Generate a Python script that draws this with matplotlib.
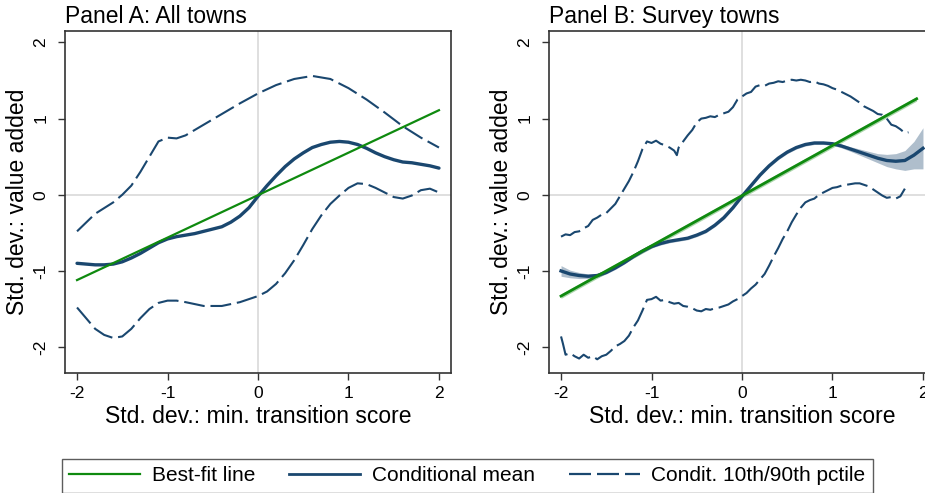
import matplotlib
matplotlib.use("Agg")
import matplotlib.pyplot as plt
import numpy as np
from matplotlib.lines import Line2D

plt.rcParams['font.family'] = ['Liberation Sans', 'DejaVu Sans']

NAVY = '#1a476f'
GREEN = '#0f8a0f'

# ---------------- Panel A: All towns ----------------
a_fit_x = [-2.0, 2.0]
a_fit_y = [-1.12, 1.11]

a_mean_x = [-2.0, -1.9, -1.8, -1.7, -1.6, -1.5, -1.4, -1.3, -1.2, -1.1, -1.0,
            -0.9, -0.8, -0.7, -0.6, -0.5, -0.4, -0.3, -0.2, -0.1, 0.0,
            0.1, 0.2, 0.3, 0.4, 0.5, 0.6, 0.7, 0.8, 0.9, 1.0,
            1.1, 1.2, 1.3, 1.4, 1.5, 1.6, 1.7, 1.8, 1.9, 2.0]
a_mean_y = [-0.90, -0.91, -0.92, -0.92, -0.91, -0.88, -0.83, -0.77, -0.70, -0.63, -0.58,
            -0.55, -0.53, -0.51, -0.48, -0.45, -0.42, -0.36, -0.28, -0.17, -0.02,
            0.12, 0.25, 0.37, 0.47, 0.55, 0.62, 0.66, 0.69, 0.70, 0.69,
            0.66, 0.61, 0.55, 0.50, 0.46, 0.43, 0.42, 0.40, 0.38, 0.35]

a_p90_x = [-2.0, -1.8, -1.6, -1.5, -1.4, -1.3, -1.2, -1.1, -1.0, -0.9, -0.8, -0.6,
           -0.4, -0.2, 0.0, 0.2, 0.4, 0.6, 0.8, 1.0, 1.2, 1.4, 1.6, 1.8, 2.0]
a_p90_y = [-0.48, -0.25, -0.10, 0.00, 0.12, 0.30, 0.50, 0.70, 0.75, 0.74, 0.78, 0.92,
           1.06, 1.20, 1.33, 1.44, 1.52, 1.56, 1.52, 1.40, 1.25, 1.08, 0.90, 0.75, 0.62]

a_p10_x = [-2.0, -1.9, -1.8, -1.7, -1.6, -1.5, -1.4, -1.3, -1.2, -1.1, -1.0, -0.9,
           -0.8, -0.6, -0.4, -0.2, 0.0, 0.1, 0.2, 0.3, 0.4, 0.5, 0.6, 0.7, 0.8, 0.9,
           1.0, 1.1, 1.2, 1.3, 1.4, 1.5, 1.6, 1.7, 1.8, 1.9, 2.0]
a_p10_y = [-1.48, -1.62, -1.76, -1.84, -1.88, -1.86, -1.76, -1.62, -1.50, -1.42, -1.39, -1.39,
           -1.41, -1.46, -1.46, -1.41, -1.33, -1.27, -1.17, -1.03, -0.86, -0.66, -0.45, -0.27,
           -0.12, -0.01, 0.09, 0.15, 0.14, 0.09, 0.03, -0.03, -0.05, -0.01, 0.06, 0.08, 0.03]

# ---------------- Panel B: Survey towns ----------------
b_fit_x = [-2.0, 1.93]
b_fit_y = [-1.33, 1.26]
b_fit_hw = [0.03, 0.03]

b_mean_x = [-2.0, -1.9, -1.8, -1.7, -1.6, -1.5, -1.4, -1.3, -1.2, -1.1, -1.0,
            -0.9, -0.8, -0.7, -0.6, -0.5, -0.4, -0.3, -0.2, -0.1, 0.0,
            0.1, 0.2, 0.3, 0.4, 0.5, 0.6, 0.7, 0.8, 0.9, 1.0,
            1.1, 1.2, 1.3, 1.4, 1.5, 1.6, 1.7, 1.8, 1.9, 2.0]
b_mean_y = [-1.00, -1.04, -1.06, -1.07, -1.06, -1.02, -0.96, -0.89, -0.81, -0.74, -0.68,
            -0.64, -0.61, -0.59, -0.57, -0.53, -0.48, -0.40, -0.30, -0.17, -0.02,
            0.12, 0.26, 0.38, 0.48, 0.56, 0.62, 0.66, 0.68, 0.68, 0.67,
            0.64, 0.60, 0.56, 0.52, 0.48, 0.45, 0.44, 0.45, 0.52, 0.61]
b_mean_hw = [0.07, 0.05, 0.04, 0.03, 0.025, 0.02, 0.02, 0.02, 0.02, 0.02, 0.02,
             0.02, 0.02, 0.02, 0.02, 0.02, 0.02, 0.02, 0.02, 0.02, 0.02,
             0.02, 0.02, 0.02, 0.02, 0.02, 0.02, 0.02, 0.02, 0.02, 0.02,
             0.025, 0.03, 0.04, 0.05, 0.06, 0.08, 0.10, 0.13, 0.18, 0.27]

b_p90_x = [-2.00, -1.95, -1.90, -1.85, -1.80, -1.75, -1.70, -1.65, -1.60, -1.55, -1.50,
           -1.45, -1.40, -1.35, -1.30, -1.25, -1.20, -1.15, -1.10, -1.05, -1.00,
           -0.95, -0.90, -0.85, -0.80, -0.75, -0.72, -0.70, -0.65, -0.60, -0.55,
           -0.50, -0.45, -0.40, -0.35, -0.30, -0.25, -0.20, -0.15, -0.10, -0.05,
           0.00, 0.05, 0.10, 0.15, 0.20, 0.25, 0.30, 0.35, 0.40, 0.45,
           0.50, 0.55, 0.60, 0.65, 0.70, 0.75, 0.80, 0.85, 0.90, 0.95,
           1.00, 1.05, 1.10, 1.15, 1.20, 1.25, 1.30, 1.35, 1.40, 1.45,
           1.50, 1.55, 1.60, 1.65, 1.70, 1.75, 1.80, 1.84]
b_p90_y = [-0.55, -0.52, -0.53, -0.49, -0.48, -0.44, -0.41, -0.33, -0.30, -0.26, -0.24,
           -0.18, -0.12, -0.02, 0.08, 0.18, 0.30, 0.44, 0.60, 0.70, 0.68,
           0.71, 0.67, 0.65, 0.62, 0.58, 0.52, 0.62, 0.70, 0.78, 0.85,
           0.95, 1.00, 1.01, 1.03, 1.02, 1.05, 1.07, 1.09, 1.15, 1.25,
           1.29, 1.33, 1.35, 1.42, 1.44, 1.43, 1.46, 1.47, 1.49, 1.48,
           1.50, 1.51, 1.50, 1.51, 1.50, 1.48, 1.49, 1.46, 1.45, 1.43,
           1.40, 1.38, 1.35, 1.32, 1.29, 1.25, 1.21, 1.16, 1.13, 1.10,
           1.06, 1.05, 1.00, 0.92, 0.90, 0.86, 0.81, 0.82]

b_p10_x = [-2.00, -1.98, -1.95, -1.90, -1.85, -1.80, -1.75, -1.70, -1.65, -1.60, -1.55,
           -1.50, -1.45, -1.40, -1.35, -1.30, -1.25, -1.20, -1.15, -1.10, -1.05,
           -1.00, -0.95, -0.90, -0.85, -0.80, -0.75, -0.70, -0.65, -0.60, -0.55,
           -0.50, -0.45, -0.40, -0.35, -0.30, -0.25, -0.20, -0.15, -0.10, -0.05,
           0.00, 0.05, 0.10, 0.15, 0.20, 0.25, 0.30, 0.35, 0.40, 0.45,
           0.50, 0.55, 0.60, 0.65, 0.70, 0.75, 0.80, 0.85, 0.90, 0.95,
           1.00, 1.05, 1.10, 1.15, 1.20, 1.25, 1.30, 1.35, 1.40, 1.45,
           1.50, 1.55, 1.60, 1.65, 1.70, 1.75, 1.80]
b_p10_y = [-1.86, -1.95, -2.10, -2.08, -2.12, -2.15, -2.10, -2.14, -2.12, -2.16, -2.12,
           -2.10, -2.05, -1.99, -1.96, -1.92, -1.85, -1.74, -1.65, -1.52, -1.38,
           -1.37, -1.34, -1.39, -1.38, -1.41, -1.43, -1.42, -1.46, -1.47, -1.49,
           -1.52, -1.53, -1.50, -1.51, -1.49, -1.48, -1.46, -1.44, -1.40, -1.37,
           -1.33, -1.29, -1.23, -1.18, -1.11, -1.04, -0.93, -0.81, -0.70, -0.58,
           -0.48, -0.36, -0.26, -0.17, -0.10, -0.07, -0.05, 0.00, 0.03, 0.06,
           0.09, 0.10, 0.12, 0.13, 0.14, 0.15, 0.15, 0.13, 0.11, 0.07,
           0.03, -0.01, -0.04, -0.03, -0.05, -0.02, 0.08]

titles = ["Panel A: All towns", "Panel B: Survey towns"]
xlabel = "Std. dev.: min. transition score"
ylabel = "Std. dev.: value added"
ticks = [-2, -1, 0, 1, 2]
tick_labels = ["-2", "-1", "0", "1", "2"]
legend_labels = ["Best-fit line", "Conditional mean", "Condit. 10th/90th pctile"]

W, H = 925, 493
fig = plt.figure(figsize=(W / 100, H / 100), dpi=100)
axA = fig.add_axes([65 / W, 120 / H, 386 / W, 342 / H])
axB = fig.add_axes([549 / W, 120 / H, 386 / W, 342 / H])

DASH = (10.0, 2.8)


def style(ax, title):
    ax.set_xlim(-2.133, 2.133)
    ax.set_ylim(-2.34, 2.15)
    ax.axhline(0, color='#dcdcdc', lw=1.3, zorder=0)
    ax.axvline(0, color='#dcdcdc', lw=1.3, zorder=0)
    ax.set_xticks(ticks)
    ax.set_xticklabels(tick_labels)
    ax.set_yticks(ticks)
    ax.set_yticklabels(tick_labels)
    ax.tick_params(axis='both', direction='out', length=5, width=1.0,
                   color='#333333', labelsize=12.5, labelcolor='black')
    ax.tick_params(axis='x', pad=4)
    ax.tick_params(axis='y', pad=7, labelrotation=90)
    for lab in ax.get_yticklabels():
        lab.set_va('center')
    for s in ax.spines.values():
        s.set_color('#333333')
        s.set_linewidth(1.2)
    ax.set_xlabel(xlabel, fontsize=16.5, labelpad=3)
    ax.set_ylabel(ylabel, fontsize=16.5, labelpad=3)
    ax.set_title(title, loc='left', fontsize=16.5, pad=6)


# Panel A
axA.plot(a_p90_x, a_p90_y, color=NAVY, lw=1.5, dashes=DASH, zorder=3)
axA.plot(a_p10_x, a_p10_y, color=NAVY, lw=1.5, dashes=DASH, zorder=3)
axA.plot(a_mean_x, a_mean_y, color=NAVY, lw=2.4, zorder=4,
         solid_capstyle='round', solid_joinstyle='round')
axA.plot(a_fit_x, a_fit_y, color=GREEN, lw=1.6, zorder=5)
style(axA, titles[0])

# Panel B
bmx = np.array(b_mean_x); bmy = np.array(b_mean_y); bmh = np.array(b_mean_hw)
axB.fill_between(bmx, bmy - bmh, bmy + bmh, color=NAVY, alpha=0.35, lw=0, zorder=2)
bfx = np.array(b_fit_x); bfy = np.array(b_fit_y); bfh = np.array(b_fit_hw)
axB.fill_between(bfx, bfy - bfh, bfy + bfh, color=GREEN, alpha=0.35, lw=0, zorder=2)
axB.plot(b_p90_x, b_p90_y, color=NAVY, lw=1.5, dashes=DASH, zorder=3)
axB.plot(b_p10_x, b_p10_y, color=NAVY, lw=1.5, dashes=DASH, zorder=3)
axB.plot(bmx, bmy, color=NAVY, lw=2.4, zorder=4, solid_joinstyle='round')
axB.plot(bfx, bfy, color=GREEN, lw=2.0, zorder=5)
style(axB, titles[1])

handles = [Line2D([], [], color=GREEN, lw=1.6),
           Line2D([], [], color=NAVY, lw=2.0),
           Line2D([], [], color=NAVY, lw=1.6, dashes=(9.9, 2.7))]
leg = fig.legend(handles, legend_labels, loc='upper left',
                 bbox_to_anchor=(62 / W, 1 - 459 / H), ncol=3, fontsize=15,
                 frameon=True, fancybox=False, edgecolor='#333333',
                 handlelength=3.4, handletextpad=0.55, columnspacing=1.65,
                 borderpad=0.35, borderaxespad=0)
leg.get_frame().set_linewidth(1.0)

fig.savefig('out.png', dpi=100)
